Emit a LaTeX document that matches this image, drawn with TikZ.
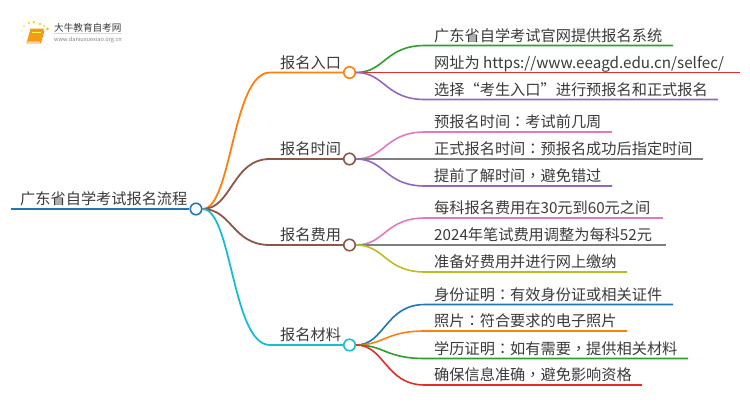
\documentclass[tikz,border=0pt]{standalone}
\usepackage{fontspec}
\setmainfont{Noto Sans CJK SC}
\newfontfamily\punctfont{Noto Sans CJK TC}
\newcommand{\cpn}[1]{{\punctfont #1}}
\definecolor{cblue}{HTML}{1F77B4}
\definecolor{corange}{HTML}{FF7F0E}
\definecolor{cgreen}{HTML}{2CA02C}
\definecolor{cred}{HTML}{E62B2B}
\definecolor{cpurple}{HTML}{9467BD}
\definecolor{cbrown}{HTML}{8C564B}
\definecolor{cpink}{HTML}{E377C2}
\definecolor{cgray}{HTML}{7F7F7F}
\definecolor{colive}{HTML}{BCBD22}
\definecolor{ccyan}{HTML}{17BECF}
\definecolor{ctext}{HTML}{3A3A3A}
\definecolor{cbook}{HTML}{F59A12}
\tikzset{
  x=1pt,y=-1pt,
  hub/.style={circle,draw,fill=white,line width=1.6pt,minimum size=11.5pt,inner sep=0pt},
  label/.style={anchor=base west,inner sep=0pt,text=ctext,font=\fontsize{15.2}{18}\selectfont},
  branch/.style={line width=1.8pt},
  leafline/.style={line width=1.6pt},
}
% parent hub, id, line y, end x, colour, text
\newcommand{\mmleaf}[6]{%
  \coordinate (#2s) at (425,#3);
  \coordinate (#2e) at (#4,#3);
  \draw[leafline,#5] (#1.east) .. controls (385,\pgfkeysvalueof{/tikz/hy}) and (385,#3) .. (#2s) -- (#2e);
  \node[label] (#2) at (434,#3-4.2) {#6};
}
\pgfkeyssetvalue{/tikz/hy}{0}
\newcommand{\mmbranch}[4]{%
  \node[hub,draw=#3] (#1) at (349.5,#2) {};
  \coordinate (#1j) at (270,#2);
  \draw[branch,#3] (root.east) .. controls (232,209) and (232,#2) .. (#1j) -- (#1.west);
  \node[label] (#1t) at (280,#2-4.5) {#4};
  \pgfkeyssetvalue{/tikz/hy}{#2}
}
\begin{document}
\begin{tikzpicture}
\useasboundingbox (0,0) rectangle (750,410);
% logo
\fill[cbook] (30.5,28.5) -- (44,28.5) -- (40.5,41.5) -- (27,41.5) -- cycle;
\draw[corange,line width=0.9pt] (27,41.5) -- (27,43) -- (40.5,43) -- (44,30.5);
\draw[yellow!70!white,line width=0.6pt] (32,32.5) -- (40.5,32.5);
\foreach \px/\py/\pr/\po in {24/26/2.4/.6,29/23/2.6/.7,34/22/3/.8,40/24/2.6/.8,44/26/2.2/.8,47.5/29/3.2/1,22/31/2/.4,23/37/1.6/.3,24/42/1.4/.2}
  \fill[yellow!60!orange,opacity=\po] (\px,\py) circle (\pr*0.5);
\node[anchor=base west,inner sep=0pt,text=ctext,font=\fontsize{9.6}{11}\selectfont] (logot) at (54,31) {大牛教育自考网};
\node[anchor=base west,inner sep=0pt,text=gray,font=\fontsize{5.6}{7}\selectfont] (logou) at (54,41) {www.daniuxuexiao.org.cn};
\draw[black!15,line width=0.5pt] (54,33) -- (121,33);
% root
\node[hub,draw=cblue] (root) at (196,209) {};
\coordinate (roots) at (11,209);
\draw[cblue,line width=2.4pt] (roots) -- (root.west);
\node[label] (roott) at (20,204.5) {广东省自学考试报名流程};
% branch 1
\mmbranch{a}{72.5}{corange}{报名入口}
\mmleaf{a}{a1}{45.5}{673}{cgreen}{广东省自学考试官网提供报名系统}
\mmleaf{a}{a2}{72.5}{740}{cred}{网址为 https://www.eeagd.edu.cn/selfec/}
\mmleaf{a}{a3}{99.5}{718}{cpurple}{选择“考生入口”进行预报名和正式报名}
% branch 2
\mmbranch{b}{159}{cbrown}{报名时间}
\mmleaf{b}{b1}{132}{612}{cpink}{预报名时间\cpn{：}考试前几周}
\mmleaf{b}{b2}{159}{703}{cgray}{正式报名时间\cpn{：}预报名成功后指定时间}
\mmleaf{b}{b3}{186}{612}{cpurple}{提前了解时间\cpn{，}避免错过}
% branch 3
\mmbranch{c}{245}{cbrown}{报名费用}
\mmleaf{c}{c1}{218}{663}{cpink}{每科报名费用在30元到60元之间}
\mmleaf{c}{c2}{245}{666}{cgray}{2024年笔试费用调整为每科52元}
\mmleaf{c}{c3}{272}{627}{colive}{准备好费用并进行网上缴纳}
% branch 4
\mmbranch{d}{345}{ccyan}{报名材料}
\mmleaf{d}{d1}{304.5}{673}{cblue}{身份证明\cpn{：}有效身份证或相关证件}
\mmleaf{d}{d2}{331}{627}{corange}{照片\cpn{：}符合要求的电子照片}
\mmleaf{d}{d3}{358.5}{688}{cgreen}{学历证明\cpn{：}如有需要\cpn{，}提供相关材料}
\mmleaf{d}{d4}{385}{642}{cred}{确保信息准确\cpn{，}避免影响资格}
\end{tikzpicture}
\end{document}
